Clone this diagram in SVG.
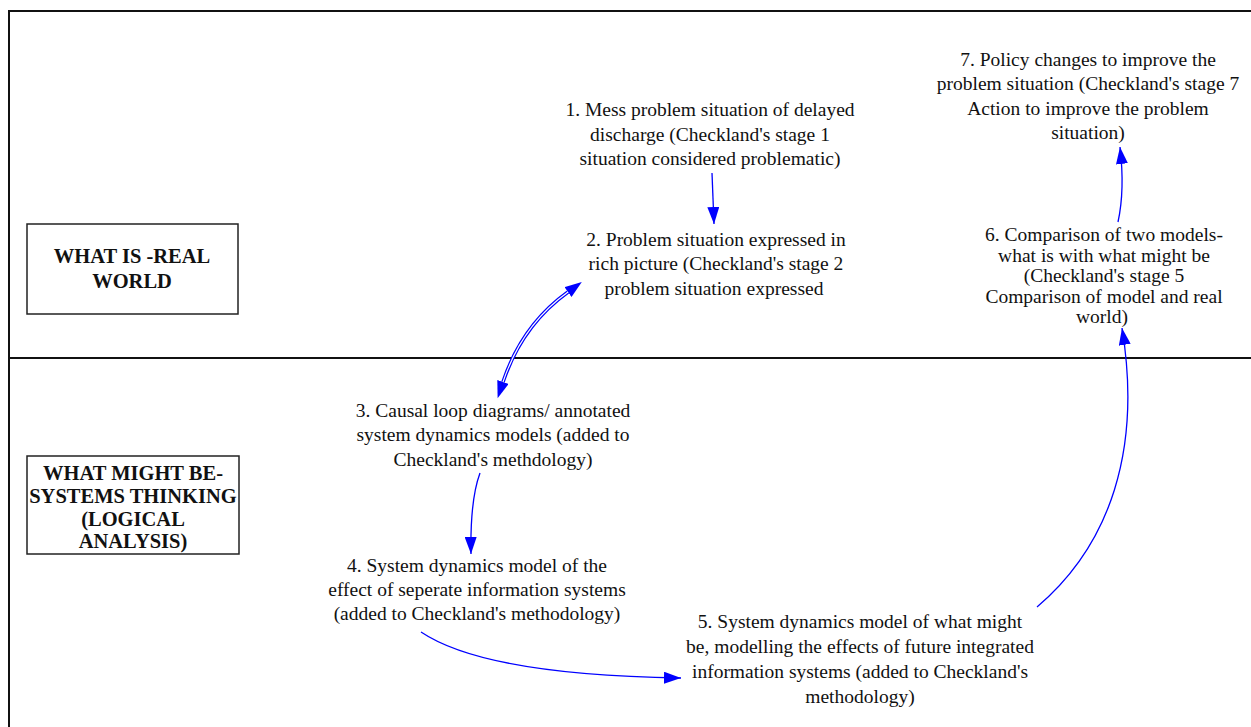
<svg xmlns="http://www.w3.org/2000/svg" width="1251" height="727" viewBox="0 0 1251 727">
<defs>
<style>
.t{font-family:"Liberation Serif","Times New Roman",serif;font-size:19.5px;fill:#111;text-anchor:middle}
.b{font-family:"Liberation Serif","Times New Roman",serif;font-size:20.5px;font-weight:bold;fill:#111;text-anchor:middle}
.frame{fill:none;stroke:#111;stroke-width:2}
.box{fill:#fff;stroke:#222;stroke-width:1.5}
.c{fill:none;stroke:#0000ff;stroke-width:1.3}
</style>
<marker id="ah" markerUnits="userSpaceOnUse" markerWidth="18" markerHeight="12" refX="17" refY="6" orient="auto">
<path d="M0,0 L17,6 L0,12 Z" fill="#0000ff"/>
</marker>
<marker id="ah0" markerUnits="userSpaceOnUse" markerWidth="18" markerHeight="12" refX="0" refY="6" orient="auto-start-reverse">
<path d="M0,0 L17,6 L0,12 Z" fill="#0000ff"/>
</marker>
</defs>
<rect width="1251" height="727" fill="#fff"/>
<g id="frame">
<path class="frame" d="M9,727 V11 H1251"/>
<path class="frame" d="M9,358 H1251"/>
</g>
<g id="label-real">
<rect class="box" x="27" y="224" width="211" height="90"/>
<text class="b" x="132" y="263">WHAT IS -REAL</text>
<text class="b" x="132" y="288">WORLD</text>
</g>
<g id="label-might">
<rect class="box" x="27" y="456" width="212" height="98"/>
<text class="b" x="133" y="480">WHAT MIGHT BE-</text>
<text class="b" x="133" y="503">SYSTEMS THINKING</text>
<text class="b" x="133" y="526">(LOGICAL</text>
<text class="b" x="133" y="548">ANALYSIS)</text>
</g>
<g id="node1">
<text class="t" x="710" y="116">1. Mess problem situation of delayed</text>
<text class="t" x="710" y="141">discharge (Checkland's stage 1</text>
<text class="t" x="710" y="165">situation considered problematic)</text>
</g>
<g id="node2">
<text class="t" x="716" y="246">2. Problem situation expressed in</text>
<text class="t" x="716" y="270">rich picture (Checkland's stage 2</text>
<text class="t" x="714" y="295">problem situation expressed</text>
</g>
<g id="node3">
<text class="t" x="493" y="417">3. Causal loop diagrams/ annotated</text>
<text class="t" x="493" y="441">system dynamics models (added to</text>
<text class="t" x="493" y="466">Checkland's methdology)</text>
</g>
<g id="node4">
<text class="t" x="477" y="572">4. System dynamics model of the</text>
<text class="t" x="477" y="596">effect of seperate information systems</text>
<text class="t" x="477" y="620">(added to Checkland's methodology)</text>
</g>
<g id="node5">
<text class="t" x="860" y="628">5. System dynamics model of what might</text>
<text class="t" x="860" y="653">be, modelling the effects of future integrated</text>
<text class="t" x="860" y="678">information systems (added to Checkland's</text>
<text class="t" x="860" y="703">methodology)</text>
</g>
<g id="node6">
<text class="t" x="1104" y="241">6. Comparison of two models-</text>
<text class="t" x="1104" y="262">what is with what might be</text>
<text class="t" x="1104" y="282">(Checkland's stage 5</text>
<text class="t" x="1104" y="303">Comparison of model and real</text>
<text class="t" x="1102" y="323">world)</text>
</g>
<g id="node7">
<text class="t" x="1088" y="66">7. Policy changes to improve the</text>
<text class="t" x="1088" y="90">problem situation (Checkland's stage 7</text>
<text class="t" x="1088" y="115">Action to improve the problem</text>
<text class="t" x="1088" y="139">situation)</text>
</g>
<g id="connectors">
<path class="c" d="M712,173 L714,224" marker-end="url(#ah)"/>
<path d="M568,292 Q522,325 503,382" fill="none" stroke="#0000ff" stroke-width="3.6" marker-start="url(#ah0)" marker-end="url(#ah0)"/>
<path d="M568,292 Q522,325 503,382" fill="none" stroke="#fff" stroke-width="1.2"/>
<path class="c" d="M480,473 Q470,500 471,554" marker-end="url(#ah)"/>
<path class="c" d="M421,632 Q485,675 681,678" marker-end="url(#ah)"/>
<path class="c" d="M1037,607 C1110,545 1142,450 1122,328" marker-end="url(#ah)"/>
<path class="c" d="M1118,222 Q1125,190 1120,147" marker-end="url(#ah)"/>
</g>
</svg>
